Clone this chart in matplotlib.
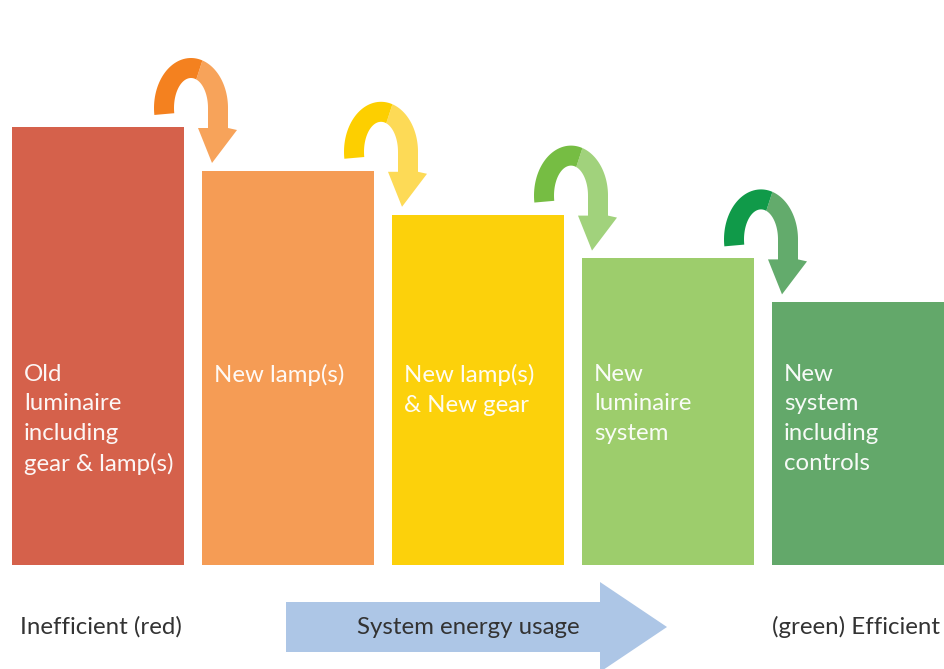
import numpy as np
import matplotlib.pyplot as plt
from matplotlib.patches import Polygon

# energy usage of each step (old luminaire = 100)
steps = ["Old\nluminaire\nincluding\ngear & lamp(s)",
         "New lamp(s)",
         "New lamp(s)\n& New gear",
         "New\nluminaire\nsystem",
         "New\nsystem\nincluding\ncontrols"]
usage = [100, 90, 80, 70, 60]
bar_colors = ["#D5614B", "#F59C55", "#FCD10B", "#9DCD6C", "#63A86A"]
arrow_dark = ["#F4811F", "#FDCF00", "#76BD43", "#109A49"]
arrow_light = ["#F7A35A", "#FDDA56", "#A1D27C", "#63AB6C"]

left_label = "Inefficient (red)"
right_label = "(green) Efficient"
mid_label = "System energy usage"

plt.rcParams["font.family"] = ["Lato", "DejaVu Sans"]

fig = plt.figure(figsize=(9.44, 6.69), dpi=100)
ax = fig.add_axes([0, 0, 1, 1])
ax.set_xlim(-98 / 190, 846 / 190)
ax.set_ylim(-104 / 4.38, 565 / 4.38)
ax.axis("off")

# pixel -> data scale
sx = 1 / 190
sy = 1 / 4.38
width = 172 / 190

x = np.arange(len(usage))
ax.bar(x, usage, width=width, color=bar_colors, linewidth=0)

for i, label in enumerate(steps):
    ax.text(x[i] - width / 2 + 12 * sx, (565 - 364) * sy, label,
            color="white", alpha=0.95, fontsize=17.3, ha="left", va="top",
            linespacing=1.5)


# curved arrows between bars
def arc(cx, cy, rx, ry, t0, t1, n=40):
    t = np.radians(np.linspace(t0, t1, n))
    return np.column_stack([cx + rx * np.cos(t) * sx, cy + ry * np.sin(t) * sy])


for i in range(len(usage) - 1):
    cx = x[i] + width / 2 + 7 * sx
    cy = usage[i] + 19 * sy
    split = 72
    dark = np.vstack([arc(cx, cy, 37, 50, 188, split),
                      arc(cx, cy, 17, 30, split, 190)])
    head = np.array([[cx + 37 * sx, cy - 20 * sy],
                     [cx + 46 * sx, cy - 22 * sy],
                     [cx + 21 * sx, cy - 55 * sy],
                     [cx + 7 * sx, cy - 20 * sy],
                     [cx + 17 * sx, cy - 20 * sy]])
    light = np.vstack([arc(cx, cy, 37, 50, split, 0),
                       head,
                       arc(cx, cy, 17, 30, 0, split)])
    ax.add_patch(Polygon(light, closed=True, color=arrow_light[i], lw=0))
    ax.add_patch(Polygon(dark, closed=True, color=arrow_dark[i], lw=0))

# bottom arrow
yc = -62 * sy
bx = np.array([286, 600, 600, 667, 600, 600, 286])
by = np.array([25, 25, 45, 0, -45, -25, -25])
ax.add_patch(Polygon(np.column_stack([(bx - 98) * sx, yc + by * sy]),
                     closed=True, color="#ADC6E6", lw=0))
ax.text((468 - 98) * sx, yc, mid_label, color="#333333", fontsize=17.3,
        ha="center", va="center")
ax.text((20 - 98) * sx, yc, left_label, color="#333333", fontsize=17.3,
        ha="left", va="center")
ax.text((940 - 98) * sx, yc, right_label, color="#333333", fontsize=17.3,
        ha="right", va="center")

fig.savefig("out.png", dpi=100)
